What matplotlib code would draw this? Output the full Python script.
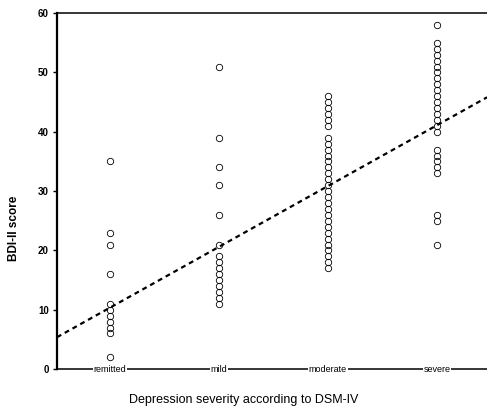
import numpy as np
import matplotlib
matplotlib.use('Agg')
import matplotlib.pyplot as plt

## 데이터
categories = ['remitted', 'mild', 'moderate', 'severe']
remitted = [35, 23, 21, 16, 11, 10, 9, 8, 7, 6, 2]
mild = [51, 39, 34, 31, 26, 21, 19, 18, 17, 16, 15, 14, 13, 12, 11]
moderate = [46, 45, 44, 43, 42, 41, 39, 38, 37, 36, 35, 34, 33, 32, 31, 30,
            29, 28, 27, 26, 25, 24, 23, 22, 21, 20, 19, 18, 17]
severe = [58, 55, 54, 53, 52, 51, 50, 49, 48, 47, 46, 45, 44, 43, 42, 41, 40,
          37, 36, 35, 34, 33, 26, 25, 21]
groups = [remitted, mild, moderate, severe]

# regression line (score = a + b * category index)
fit_intercept = 0.1
fit_slope = 10.25

yticks = [0, 10, 20, 30, 40, 50, 60]

plt.rcParams['font.family'] = ['Liberation Sans', 'DejaVu Sans']

fig = plt.figure(figsize=(4.87, 4.11), dpi=100)
ax = fig.add_axes([0.117, 0.102, 0.883, 0.866])

for i, vals in enumerate(groups):
    xs = np.full(len(vals), i + 1)
    ax.plot(xs, vals, 'o', ms=4.6, mfc='none', mec='black', mew=0.6, ls='none')

xlo, xhi = 0.514, 4.46
xl = np.array([xlo, xhi])
ax.plot(xl, fit_intercept + fit_slope * xl, color='black', lw=1.6,
        ls=(0, (2.2, 1.8)))

ax.set_xlim(xlo, xhi)
ax.set_ylim(0, 60)

ax.spines['right'].set_visible(False)
ax.spines['left'].set_linewidth(1.6)
ax.spines['top'].set_linewidth(1.1)
ax.spines['bottom'].set_linewidth(1.1)

ax.set_yticks(yticks)
ax.set_yticklabels([str(v) for v in yticks], fontsize=7, fontweight='bold')
ax.tick_params(axis='y', direction='out', length=3, width=1, pad=3)
ax.set_xticks([])

# 카테고리 라벨은 축선 위에 흰 배경으로
for i, c in enumerate(categories):
    ax.text(i + 1, 0, c, ha='center', va='center', fontsize=6.5,
            bbox=dict(facecolor='white', edgecolor='none', pad=0.5),
            clip_on=False, zorder=5)

fig.text(0.029, 0.445, 'BDI-II score', rotation=90, ha='center', va='center',
         fontsize=8.5, fontweight='bold')
fig.text(0.5, 0.027, 'Depression severity according to DSM-IV', ha='center',
         va='center', fontsize=9)

fig.savefig('out.png', dpi=100)
